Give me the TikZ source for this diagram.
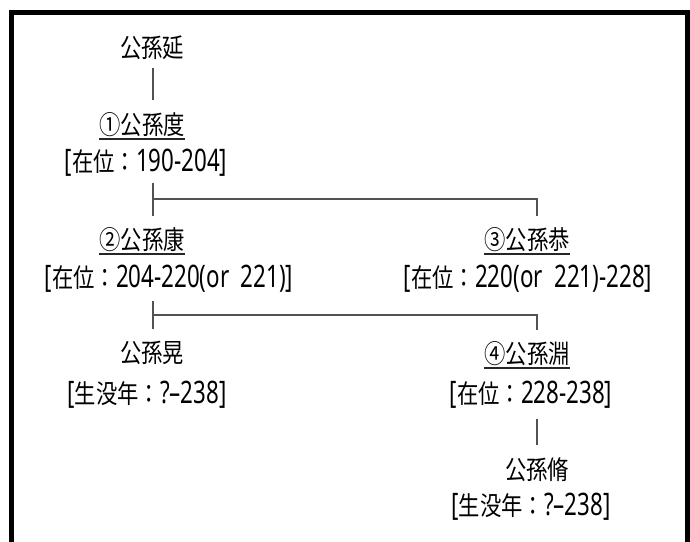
\documentclass[tikz,border=0pt]{standalone}
\usepackage{fontspec}
\newfontfamily\jp[FakeStretch=0.82]{Noto Sans CJK JP}
\newfontfamily\latfont[FakeStretch=0.72]{Noto Sans}
\newcommand\latn[1]{{\latfont\fontsize{31}{31}\selectfont #1}}
\begin{document}
\begin{tikzpicture}[x=1pt,y=-1pt,
  nm/.style={font=\jp\fontsize{26}{26}\selectfont, inner sep=0pt},
  rg/.style={font=\jp\fontsize{26}{26}\selectfont, inner sep=0pt},
  conn/.style={draw=black!68, line width=1.3pt},
  ul/.style={draw=black!85, line width=1.5pt},
  frame/.style={draw=black, line width=5pt}]
\useasboundingbox (0,0) rectangle (690,541);
\clip (0,0) rectangle (690,541);
\fill[white] (0,0) rectangle (690,541);
\draw[frame] (11,560) -- (11,12) -- (687.5,12) -- (687.5,560);

% people
\node[nm] (yan)    at (152,48)  {公孫延};
\node[nm] (du)     at (142,125) {①公孫度};
\node[rg] (dur)    at (146,163) {\latn{[}在位：\latn{190-204]}};
\node[nm] (kang)   at (142,240) {②公孫康};
\node[rg] (kangr)  at (169,279) {\latn{[}在位：\latn{204-220(or\ \ 221)]}};
\node[nm] (gong)   at (527,240) {③公孫恭};
\node[rg] (gongr)  at (528,279) {\latn{[}在位：\latn{220(or\ \ 221)-228]}};
\node[nm] (huang)  at (152,353) {公孫晃};
\node[rg] (huangr) at (147,395) {\latn{[}生没年：\latn{?–238]}};
\node[nm] (yuan)   at (527,354) {④公孫淵};
\node[rg] (yuanr)  at (531,395) {\latn{[}在位：\latn{228-238]}};
\node[nm] (xiu)    at (537,470) {公孫脩};
\node[rg] (xiur)   at (531,507) {\latn{[}生没年：\latn{?–238]}};

% underlines
\foreach \n in {du,kang,gong,yuan}
  \draw[ul] ([yshift=-1.5pt]\n.south west) -- ([yshift=-1.5pt]\n.south east);

% junction columns
\coordinate (cl) at (153,0);
\coordinate (cr) at (537,0);
\coordinate (j1) at (153,199);
\coordinate (j1r) at (537,199);
\coordinate (j2) at (153,315);
\coordinate (j2r) at (537,315);

% connectors
\draw[conn] ([yshift=-8pt]yan.south -| cl) -- ([yshift=13pt]du.north -| cl);
\draw[conn] ([yshift=-6pt]dur.south -| cl) -- ([yshift=12pt]kang.north -| cl);
\draw[conn] (j1) -- (j1r) -- ([yshift=12pt]gong.north -| cr);
\draw[conn] ([yshift=-8pt]kangr.south -| cl) -- ([yshift=12pt]huang.north -| cl);
\draw[conn] (j2) -- (j2r) -- ([yshift=12pt]yuan.north -| cr);
\draw[conn] ([yshift=-10pt]yuanr.south -| cr) -- ([yshift=13pt]xiu.north -| cr);
\end{tikzpicture}
\end{document}
